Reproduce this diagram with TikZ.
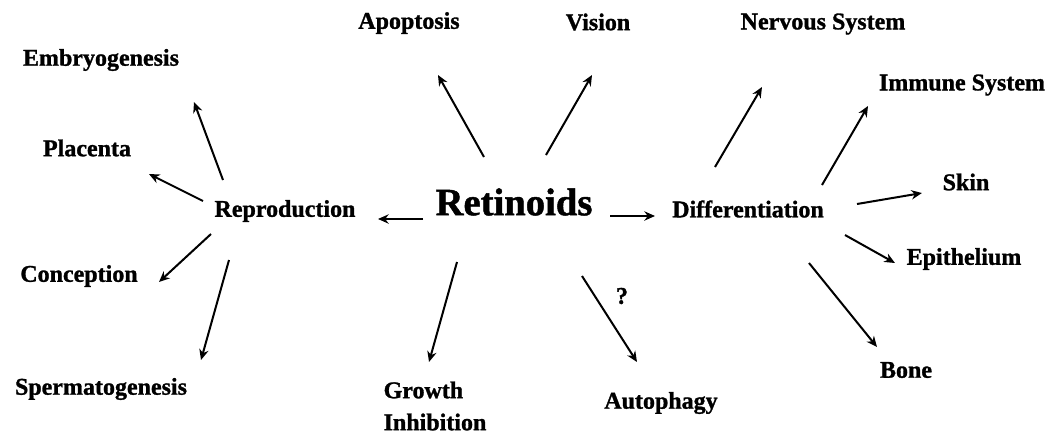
\documentclass[tikz,border=0pt]{standalone}
\usepackage{fontspec}
\setmainfont[BoldFeatures={FakeBold=1.2}]{Liberation Serif}
\usetikzlibrary{arrows.meta}
\tikzset{
	lbl/.style={inner sep=0pt, font=\bfseries\fontsize{18}{24}\selectfont},
	big/.style={inner sep=0pt, font=\bfseries\fontsize{29}{32}\selectfont},
	arr/.style={line width=1.5pt, -{Stealth[length=8pt,width=7pt]}}
}
\begin{document}
\begin{tikzpicture}[x=0.75pt, y=-0.75pt]
	\useasboundingbox (0,0) rectangle (1050,437);
	\node (Retinoids) at (514,202) [big] {Retinoids};
	\node (Reproduction) at (285,211) [lbl] {Reproduction};
	\node (Differentiation) at (748,209) [lbl] {Differentiation};
	\node (Embryogenesis) at (101,60) [lbl] {Embryogenesis};
	\node (Placenta) at (87,148) [lbl] {Placenta};
	\node (Conception) at (79,276) [lbl] {Conception};
	\node (Spermatogenesis) at (101,389) [lbl] {Spermatogenesis};
	\node (Apoptosis) at (409,23) [lbl] {Apoptosis};
	\node (Vision) at (598,22) [lbl] {Vision};
	\node (Growth) at (435,406) [lbl, align=left] {Growth\\Inhibition};
	\node (Autophagy) at (661,403) [lbl] {Autophagy};
	\node (Question) at (622,296) [lbl] {?};
	\node (Nervous) at (823,24) [lbl] {Nervous System};
	\node (Immune) at (962,85) [lbl] {Immune System};
	\node (Skin) at (966,182) [lbl] {Skin};
	\node (Epithelium) at (964,259) [lbl] {Epithelium};
	\node (Bone) at (906,370) [lbl] {Bone};

	\coordinate (RetL) at (423,219);
	\coordinate (RepR) at (378,219);
	\coordinate (RetR) at (610,216);
	\coordinate (DifL) at (655,216);
	\coordinate (RepEmb) at (223,180);
	\coordinate (EmbEnd) at (194,102);
	\coordinate (RepPla) at (203,201);
	\coordinate (PlaEnd) at (149,174);
	\coordinate (RepCon) at (211,234);
	\coordinate (ConEnd) at (159,282);
	\coordinate (RepSpe) at (229,260);
	\coordinate (SpeEnd) at (201,360);
	\coordinate (RetApo) at (484,157);
	\coordinate (ApoEnd) at (438,75);
	\coordinate (RetVis) at (546,155);
	\coordinate (VisEnd) at (592,75);
	\coordinate (RetGro) at (457,262);
	\coordinate (GroEnd) at (429,362);
	\coordinate (RetAut) at (582,276);
	\coordinate (AutEnd) at (637,362);
	\coordinate (DifNer) at (715,167);
	\coordinate (NerEnd) at (762,87);
	\coordinate (DifImm) at (822,185);
	\coordinate (ImmEnd) at (868,106);
	\coordinate (DifSki) at (857,204);
	\coordinate (SkiEnd) at (922,193);
	\coordinate (DifEpi) at (845,235);
	\coordinate (EpiEnd) at (895,263);
	\coordinate (DifBon) at (809,263);
	\coordinate (BonEnd) at (877,347);

	\draw[arr] (RetL) -- (RepR);
	\draw[arr] (RetR) -- (DifL);
	\draw[arr] (RepEmb) -- (EmbEnd);
	\draw[arr] (RepPla) -- (PlaEnd);
	\draw[arr] (RepCon) -- (ConEnd);
	\draw[arr] (RepSpe) -- (SpeEnd);
	\draw[arr] (RetApo) -- (ApoEnd);
	\draw[arr] (RetVis) -- (VisEnd);
	\draw[arr] (RetGro) -- (GroEnd);
	\draw[arr] (RetAut) -- (AutEnd);
	\draw[arr] (DifNer) -- (NerEnd);
	\draw[arr] (DifImm) -- (ImmEnd);
	\draw[arr] (DifSki) -- (SkiEnd);
	\draw[arr] (DifEpi) -- (EpiEnd);
	\draw[arr] (DifBon) -- (BonEnd);
\end{tikzpicture}
\end{document}
